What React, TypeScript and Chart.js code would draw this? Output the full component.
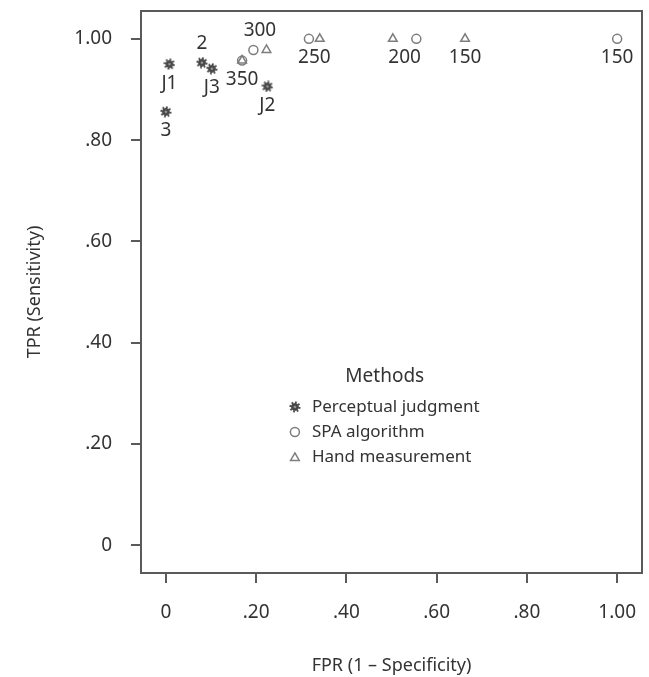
import React, { useEffect, useRef } from "react";
import { Chart, registerables } from "chart.js";

Chart.register(...registerables);

// ---------- data ----------
const xTickValues = [0, 0.2, 0.4, 0.6, 0.8, 1.0];
const yTickValues = [0, 0.2, 0.4, 0.6, 0.8, 1.0];
const xTickLabels = ["0", ".20", ".40", ".60", ".80", "1.00"];
const yTickLabels = ["0", ".20", ".40", ".60", ".80", "1.00"];

const seriesNames = ["Perceptual judgment", "SPA algorithm", "Hand measurement"];

const perceptualLabels = ["3", "J1", "2", "J3", "J2"];
const perceptualFPR = [0.0, 0.008, 0.08, 0.102, 0.225];
const perceptualTPR = [0.856, 0.95, 0.953, 0.941, 0.906];
const perceptualLabelPos = ["below", "below", "above", "below", "below"];

const thresholds = ["350", "300", "250", "200", "150"];
const spaFPR = [0.169, 0.194, 0.317, 0.555, 1.0];
const spaTPR = [0.957, 0.978, 1.0, 1.0, 1.0];
const handFPR = [0.169, 0.223, 0.341, 0.503, 0.663];
const handTPR = [0.957, 0.978, 1.0, 1.0, 1.0];
const thresholdLabelPos = ["below", "above", "below", "below", "below"];

// ---------- styles ----------
const FONT = '"Noto Sans", "DejaVu Sans", sans-serif';
const TEXT = "#333333";
const AXIS = "#5a5a5a";
const GEAR = "#474747";
const OPEN = "#7d7d7d";

function makeGear(): HTMLCanvasElement {
  const size = 12;
  const c = document.createElement("canvas");
  c.width = size;
  c.height = size;
  const g = c.getContext("2d")!;
  const cx = size / 2;
  const cy = size / 2;
  const teeth = 8;
  const rOut = 5.6;
  const rIn = 3.9;
  g.beginPath();
  for (let i = 0; i < teeth * 2; i++) {
    const a0 = (i * Math.PI) / teeth;
    const a1 = ((i + 1) * Math.PI) / teeth;
    const r = i % 2 === 0 ? rOut : rIn;
    if (i === 0) g.moveTo(cx + r * Math.cos(a0), cy + r * Math.sin(a0));
    g.lineTo(cx + r * Math.cos(a0), cy + r * Math.sin(a0));
    g.lineTo(cx + r * Math.cos(a1), cy + r * Math.sin(a1));
  }
  g.closePath();
  g.fillStyle = GEAR;
  g.fill();
  g.beginPath();
  g.arc(cx, cy, 1.3, 0, Math.PI * 2);
  g.fillStyle = "#9a9a9a";
  g.fill();
  return c;
}

function drawTriangle(ctx: CanvasRenderingContext2D, x: number, y: number, r: number) {
  ctx.beginPath();
  let rad = 0;
  ctx.moveTo(x + Math.sin(rad) * r, y - Math.cos(rad) * r);
  rad += (2 * Math.PI) / 3;
  ctx.lineTo(x + Math.sin(rad) * r, y - Math.cos(rad) * r);
  rad += (2 * Math.PI) / 3;
  ctx.lineTo(x + Math.sin(rad) * r, y - Math.cos(rad) * r);
  ctx.closePath();
  ctx.stroke();
}

const framePlugin = {
  id: "frame",
  afterDraw(chart: any) {
    const { ctx, chartArea } = chart;
    ctx.save();
    ctx.strokeStyle = AXIS;
    ctx.lineWidth = 2;
    ctx.beginPath();
    ctx.moveTo(chartArea.left, chartArea.top);
    ctx.lineTo(chartArea.right, chartArea.top);
    ctx.lineTo(chartArea.right, chartArea.bottom);
    ctx.stroke();
    ctx.restore();
  },
};

const LABEL_GAP = 19;

const pointLabelPlugin = {
  id: "pointLabels",
  afterDatasetsDraw(chart: any) {
    const { ctx } = chart;
    ctx.save();
    ctx.font = `19px ${FONT}`;
    ctx.fillStyle = TEXT;
    ctx.textAlign = "center";
    ctx.textBaseline = "middle";
    const put = (text: string, x: number, y: number, pos: string) => {
      ctx.fillText(text, x, pos === "above" ? y - LABEL_GAP : y + LABEL_GAP);
    };
    const m0 = chart.getDatasetMeta(0).data;
    perceptualLabels.forEach((t, i) => {
      const p = m0[i];
      put(t, p.x, p.y, perceptualLabelPos[i]);
    });
    const m1 = chart.getDatasetMeta(1).data;
    const m2 = chart.getDatasetMeta(2).data;
    thresholds.forEach((t, i) => {
      const a = m1[i];
      const b = m2[i];
      if (Math.abs(a.x - b.x) < 30) {
        put(t, (a.x + b.x) / 2, Math.min(a.y, b.y), thresholdLabelPos[i]);
      } else {
        put(t, a.x, a.y, thresholdLabelPos[i]);
        put(t, b.x, b.y, thresholdLabelPos[i]);
      }
    });
    ctx.restore();
  },
};

const legendAnchor = { x: 0.286, y: 0.273 };

function makeLegendPlugin(gear: HTMLCanvasElement) {
  return {
    id: "methodsLegend",
    afterDraw(chart: any) {
      const { ctx } = chart;
      const xs = chart.scales.x;
      const ys = chart.scales.y;
      const mx = xs.getPixelForValue(legendAnchor.x);
      const y0 = ys.getPixelForValue(legendAnchor.y);
      const rowH = 25;
      const textX = mx + 17;
      ctx.save();
      ctx.font = `17px ${FONT}`;
      let maxW = 0;
      seriesNames.forEach((n) => (maxW = Math.max(maxW, ctx.measureText(n).width)));
      const blockLeft = mx - 5;
      const blockRight = textX + maxW;
      ctx.fillStyle = TEXT;
      ctx.textBaseline = "middle";
      ctx.font = `19px ${FONT}`;
      ctx.textAlign = "center";
      ctx.fillText("Methods", (blockLeft + blockRight) / 2, y0 - 30);
      ctx.font = `17px ${FONT}`;
      ctx.textAlign = "left";
      seriesNames.forEach((n, i) => {
        const yy = y0 + i * rowH;
        ctx.fillText(n, textX, yy);
        if (i === 0) {
          ctx.drawImage(gear, mx - gear.width / 2, yy - gear.height / 2);
        } else if (i === 1) {
          ctx.strokeStyle = OPEN;
          ctx.lineWidth = 1.5;
          ctx.beginPath();
          ctx.arc(mx, yy, 4.5, 0, Math.PI * 2);
          ctx.stroke();
        } else {
          ctx.strokeStyle = OPEN;
          ctx.lineWidth = 1.5;
          drawTriangle(ctx, mx, yy + 1, 5);
        }
      });
      ctx.restore();
    },
  };
}

function zeroPadding(s: any) {
  s.paddingTop = 0;
  s.paddingBottom = 0;
  s.paddingLeft = 0;
  s.paddingRight = 0;
}

export default function App() {
  const ref = useRef<HTMLCanvasElement | null>(null);

  useEffect(() => {
    if (!ref.current) return;
    const gear = makeGear();
    const tickFont = { family: FONT, size: 19 };
    const titleFont = { family: FONT, size: 18 };
    const chart = new Chart(ref.current, {
      type: "scatter",
      data: {
        datasets: [
          {
            label: seriesNames[0],
            data: perceptualFPR.map((x, i) => ({ x, y: perceptualTPR[i] })),
            pointStyle: gear as any,
            pointRadius: 5,
            borderColor: GEAR,
            backgroundColor: GEAR,
          },
          {
            label: seriesNames[1],
            data: spaFPR.map((x, i) => ({ x, y: spaTPR[i] })),
            pointStyle: "circle",
            pointRadius: 4.5,
            borderWidth: 1.5,
            borderColor: OPEN,
            backgroundColor: "rgba(0,0,0,0)",
          },
          {
            label: seriesNames[2],
            data: handFPR.map((x, i) => ({ x, y: handTPR[i] })),
            pointStyle: "triangle",
            pointRadius: 5,
            borderWidth: 1.5,
            borderColor: OPEN,
            backgroundColor: "rgba(0,0,0,0)",
          },
        ],
      },
      options: {
        animation: false,
        responsive: true,
        maintainAspectRatio: false,
        layout: { padding: { left: 0, right: 7, top: 11, bottom: 0 } },
        plugins: {
          legend: { display: false },
          tooltip: { enabled: false },
        },
        scales: {
          x: {
            type: "linear",
            min: -0.055,
            max: 1.055,
            afterBuildTicks: (s: any) => {
              s.ticks = xTickValues.map((v) => ({ value: v }));
            },
            afterFit: (s: any) => {
              s.height = 104;
              zeroPadding(s);
            },
            grid: {
              drawOnChartArea: false,
              drawTicks: true,
              tickLength: 10,
              color: AXIS,
              lineWidth: 2,
            },
            border: { display: true, color: AXIS, width: 2 },
            ticks: {
              autoSkip: false,
              maxRotation: 0,
              padding: 18,
              color: TEXT,
              font: tickFont,
              callback: (v: any) => {
                const i = xTickValues.indexOf(Number(v));
                return i >= 0 ? xTickLabels[i] : "";
              },
            },
            title: {
              display: true,
              text: "FPR (1 – Specificity)",
              color: TEXT,
              font: titleFont,
              padding: { top: 4, bottom: 0 },
            },
          },
          y: {
            type: "linear",
            min: -0.055,
            max: 1.055,
            afterBuildTicks: (s: any) => {
              s.ticks = yTickValues.map((v) => ({ value: v }));
            },
            afterFit: (s: any) => {
              s.width = 141;
              zeroPadding(s);
            },
            grid: {
              drawOnChartArea: false,
              drawTicks: true,
              tickLength: 10,
              color: AXIS,
              lineWidth: 2,
            },
            border: { display: true, color: AXIS, width: 2 },
            ticks: {
              autoSkip: false,
              padding: 19,
              color: TEXT,
              font: tickFont,
              callback: (v: any) => {
                const i = yTickValues.indexOf(Number(v));
                return i >= 0 ? yTickLabels[i] : "";
              },
            },
            title: {
              display: true,
              text: "TPR (Sensitivity)",
              color: TEXT,
              font: titleFont,
              padding: { top: 24, bottom: 0 },
            },
          },
        },
      },
      plugins: [framePlugin, pointLabelPlugin, makeLegendPlugin(gear)],
    });
    return () => chart.destroy();
  }, []);

  return (
    <div
      style={{
        position: "fixed",
        left: 0,
        top: 0,
        width: 649,
        height: 677,
        background: "#ffffff",
      }}
    >
      <canvas ref={ref} />
    </div>
  );
}
